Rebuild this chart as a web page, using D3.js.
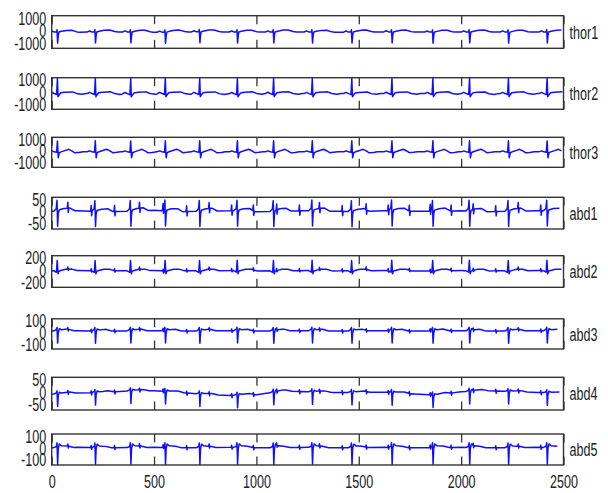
<!DOCTYPE html>
<html>
<head>
<meta charset="utf-8">
<script src="https://cdn.jsdelivr.net/npm/d3@7"></script>
<style>
body { margin:0; background:#fff; }
text { font-family: "Liberation Sans", Arial, sans-serif; }
</style>
</head>
<body>
<div id="vis"></div>
<script>
// channels, top to bottom, and the tick value shown on each y axis
var channels = ["thor1","thor2","thor3","abd1","abd2","abd3","abd4","abd5"];
var yTick = [1000,1000,1000,50,200,100,50,100];
var xTicks = [0,500,1000,1500,2000,2500];
var nSamples = 2500;

// beat positions (sample index)
var mBeats = [28,213,386,555,723,907,1084,1273,1466,1662,1862,2041,2231,2420];
var fBeats = [80,194,308,430,545,660,770,880,986,1100,1211,1309,1420,1537,1645,1748,1850,1952,2060,2170,2280,2390];

// maternal complex of each channel: [offset from beat, value]
var thor1M = [[-40,0],[-28,90],[-16,0],[-5,0],[-2,180],[1,-880],[4,-300],[7,0],[20,60],[45,140],[70,150],[95,30],[110,0]];
var thor2M = [[-40,0],[-28,100],[-16,0],[-4,-80],[0,1250],[3,-260],[8,-120],[16,60],[35,110],[75,140],[95,0],[120,-60],[140,0]];
var thor3M = [[-40,0],[-28,80],[-16,0],[-4,-40],[0,950],[4,-520],[9,-80],[18,0],[40,130],[55,220],[70,90],[85,-80],[105,-50],[125,0]];
var abd1M = [[-18,0],[-6,10],[-2,44],[1,-62],[4,-12],[8,4],[30,10],[60,12],[85,0]];
var abd2M = [[-18,0],[-5,-25],[-1,170],[3,-50],[7,-10],[12,0],[40,25],[70,25],[95,0]];
var abd3M = [[-18,0],[-6,12],[-2,30],[1,-105],[4,-20],[9,18],[20,10],[50,15],[80,0]];
var abd4M = [[-18,0],[-5,4],[-2,12],[1,-50],[4,-8],[9,6],[20,3],[60,5],[90,0]];
var abd5M = [[-18,0],[-5,10],[-2,40],[1,-140],[4,-10],[9,30],[20,15],[50,12],[80,0]];

// fetal complex (abdominal channels only)
var noF = [];
var abd1F = [[-4,0],[-1,24],[1,-18],[4,0]];
var abd2F = [[-4,0],[-1,35],[1,-20],[4,0]];
var abd3F = [[-4,0],[-1,14],[1,-16],[4,0]];
var abd4F = [[-4,0],[-1,7],[1,-9],[4,0]];
var abd5F = [[-4,0],[-1,18],[1,-16],[4,0]];

// baseline every 125 samples
var baseStep = 125;
var thor1B = [0,-20,10,0,-20,0,20,0,-10,10,0,-20,0,10,0,-10,0,10,-10,0,0];
var thor2B = [0,-10,0,-20,0,-10,0,-20,0,0,-10,0,-20,0,-10,0,0,-20,0,-10,0];
var thor3B = [40,40,50,40,40,50,40,40,50,40,40,50,40,40,50,40,40,50,40,40,40];
var abd1B = [8,10,6,8,12,6,8,10,6,8,10,8,6,10,8,8,10,6,8,10,8];
var abd2B = [12,15,10,12,15,10,12,15,10,12,15,10,12,15,10,12,15,10,12,15,12];
var abd3B = [25,28,24,26,28,24,25,28,24,26,28,24,25,28,24,26,28,24,25,28,25];
var abd4B = [-2,3,5,11,12,5,-3,-7,-4,10,8,5,5,6,0,-6,8,12,8,5,1];
var abd5B = [15,18,14,16,18,14,15,18,14,16,18,14,15,18,14,16,18,14,15,18,15];

var mShapes = [thor1M,thor2M,thor3M,abd1M,abd2M,abd3M,abd4M,abd5M];
var fShapes = [noF,noF,noF,abd1F,abd2F,abd3F,abd4F,abd5F];
var bases = [thor1B,thor2B,thor3B,abd1B,abd2B,abd3B,abd4B,abd5B];

// layout
var W = 608, H = 493;
var left = 51.7, right = 563.5;
var panelTop = [15.7, 77.7, 137.3, 197.3, 255.7, 318.8, 377.3, 434];
var panelH = [32.6, 31.6, 30, 31.7, 31.6, 30.2, 32.7, 31];
var fs = 18.5, sx = 0.68, tickLen = 8.5;

var svg = d3.select("div#vis").append("svg")
  .attr("width", W)
  .attr("height", H);

var x = d3.scaleLinear().domain([0, nSamples]).range([left, right]);

function shapeScale(s) {
  return d3.scaleLinear().domain(s.map(function(d){return d[0];}))
    .range(s.map(function(d){return d[1];})).clamp(true);
}

channels.forEach(function(name, i) {
  var top = panelTop[i], h = panelH[i], T = yTick[i];
  var y = d3.scaleLinear().domain([-1.3*T, 1.3*T]).range([top + h, top]);

  var base = bases[i];
  var baseScale = d3.scaleLinear()
    .domain(base.map(function(d,k){return k*baseStep;}))
    .range(base);
  var mS = shapeScale(mShapes[i]);
  var fS = fShapes[i].length ? shapeScale(fShapes[i]) : null;

  // vertex positions: baseline knots + every complex vertex
  var pos = base.map(function(d,k){return k*baseStep;});
  mBeats.forEach(function(b){ mShapes[i].forEach(function(p){ pos.push(b + p[0]); }); });
  if (fS) fBeats.forEach(function(b){ fShapes[i].forEach(function(p){ pos.push(b + p[0]); }); });
  pos = Array.from(new Set(pos.filter(function(s){return s >= 0 && s <= nSamples - 1;}))).sort(d3.ascending);

  var pts = pos.map(function(s) {
    var v = baseScale(s);
    mBeats.forEach(function(b){ v += mS(s - b); });
    if (fS) fBeats.forEach(function(b){ v += fS(s - b); });
    return [s, v];
  });

  var g = svg.append("g");

  g.append("clipPath").attr("id", "clip" + i)
    .append("rect").attr("x", left).attr("y", top).attr("width", right - left).attr("height", h);

  g.append("path")
    .datum(pts)
    .attr("clip-path", "url(#clip" + i + ")")
    .attr("fill", "none")
    .attr("stroke", "#1010ff")
    .attr("stroke-width", 1.5)
    .attr("stroke-linejoin", "round")
    .attr("d", d3.line().x(function(d){return x(d[0]);}).y(function(d){return y(d[1]);}));

  // inner ticks, top and bottom
  g.append("g").attr("transform", "translate(0," + top + ")")
    .call(d3.axisBottom(x).tickValues(xTicks).tickSize(tickLen).tickFormat(""))
    .call(function(a){ a.select(".domain").remove(); a.selectAll("line").attr("stroke", "#333").attr("stroke-width", 1.3); });
  g.append("g").attr("transform", "translate(0," + (top + h) + ")")
    .call(d3.axisTop(x).tickValues(xTicks).tickSize(tickLen).tickFormat(""))
    .call(function(a){ a.select(".domain").remove(); a.selectAll("line").attr("stroke", "#333").attr("stroke-width", 1.3); });

  // frame
  g.append("rect")
    .attr("x", left).attr("y", top).attr("width", right - left).attr("height", h)
    .attr("fill", "none").attr("stroke", "#333").attr("stroke-width", 1.4);

  // y labels (overlapping, as in the original)
  var ya = g.append("g").attr("transform", "translate(" + left + ",0)")
    .call(d3.axisLeft(y).tickValues([T, 0, -T]).tickSize(0).tickFormat(function(d){return String(d);}));
  ya.select(".domain").remove();
  ya.selectAll("text")
    .attr("x", -8).attr("dy", "0.3em")
    .attr("font-size", fs).attr("font-family", "Liberation Sans, Arial, sans-serif")
    .attr("fill", "#222")
    .attr("transform", "translate(0,-1) scale(" + sx + ",1)");

  // channel name
  g.append("text")
    .attr("transform", "translate(" + (right + 6) + "," + (top + h/2) + ") scale(" + sx + ",1)")
    .attr("dy", "0.36em")
    .attr("font-size", fs)
    .attr("fill", "#222")
    .text(name);

  if (i === channels.length - 1) {
    var xa = g.append("g").attr("transform", "translate(0," + (top + h) + ")")
      .call(d3.axisBottom(x).tickValues(xTicks).tickSize(0).tickPadding(10).tickFormat(function(d){return String(d);}));
    xa.select(".domain").remove();
    xa.selectAll("text")
      .attr("font-size", fs).attr("font-family", "Liberation Sans, Arial, sans-serif")
      .attr("fill", "#222")
      .attr("transform", "scale(" + sx + ",1)");
  }
});
</script>
</body>
</html>
